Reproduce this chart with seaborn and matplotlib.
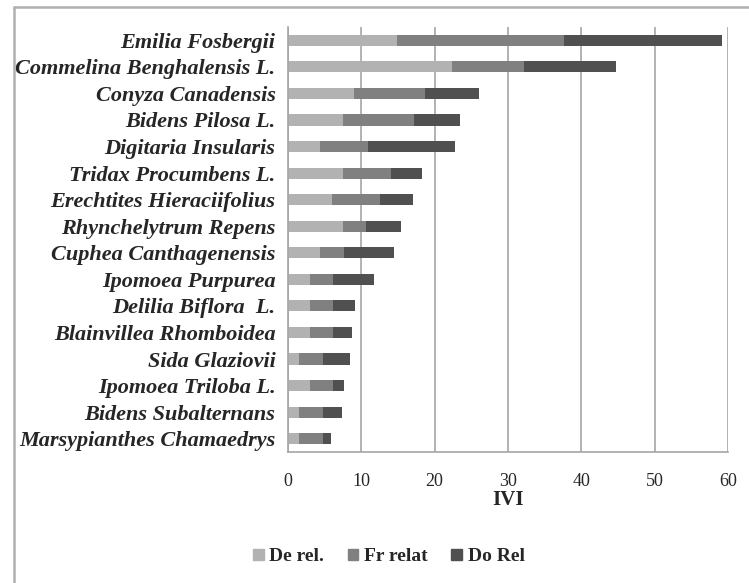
import numpy as np
import pandas as pd
import matplotlib
matplotlib.use("Agg")
import matplotlib.pyplot as plt
from matplotlib.patches import Patch
from matplotlib.lines import Line2D
import seaborn as sns

species = ["Emilia Fosbergii", "Commelina Benghalensis L.", "Conyza Canadensis",
           "Bidens Pilosa L.", "Digitaria Insularis", "Tridax Procumbens L.",
           "Erechtites Hieraciifolius", "Rhynchelytrum Repens", "Cuphea Canthagenensis",
           "Ipomoea Purpurea", "Delilia Biflora  L.", "Blainvillea Rhomboidea",
           "Sida Glaziovii", "Ipomoea Triloba L.", "Bidens Subalternans",
           "Marsypianthes Chamaedrys"]
de_rel = [14.9, 22.4, 9.0, 7.5, 4.4, 7.5, 6.05, 7.5, 4.4, 3.0, 3.0, 3.0, 1.55, 3.0, 1.55, 1.55]
fr_relat = [22.7, 9.8, 9.7, 9.7, 6.5, 6.5, 6.5, 3.2, 3.3, 3.2, 3.2, 3.2, 3.25, 3.2, 3.25, 3.25]
do_rel = [21.6, 12.5, 7.3, 6.3, 11.9, 4.3, 4.5, 4.7, 6.8, 5.5, 2.9, 2.5, 3.6, 1.4, 2.5, 1.05]

df = pd.DataFrame({"species": species, "De rel.": de_rel,
                   "Fr relat": fr_relat, "Do Rel": do_rel})
df["c1"] = df["De rel."]
df["c2"] = df["c1"] + df["Fr relat"]
df["c3"] = df["c2"] + df["Do Rel"]

colors = {"De rel.": "#b2b2b2", "Fr relat": "#808080", "Do Rel": "#505050"}

sns.set_style("white")
plt.rcParams["font.family"] = ["Liberation Serif", "DejaVu Serif"]

fig = plt.figure(figsize=(7.49, 5.83), dpi=100)
ax = fig.add_axes([0.3845, 0.2247, 0.5875, 0.729])

# stacked bars: draw cumulative totals back to front
for col, key in [("c3", "Do Rel"), ("c2", "Fr relat"), ("c1", "De rel.")]:
    sns.barplot(data=df, x=col, y="species", orient="h", color=colors[key],
                width=0.42, ax=ax, saturation=1, linewidth=0)

ax.set_xlim(0, 60)
ax.set_xticks(np.arange(0, 61, 10))
ax.xaxis.grid(True, color="#a6a6a6", linewidth=1.2)
ax.set_axisbelow(True)
for s in ["top", "right"]:
    ax.spines[s].set_visible(False)
for s in ["left", "bottom"]:
    ax.spines[s].set_color("#a6a6a6")
    ax.spines[s].set_linewidth(1.2)
ax.tick_params(axis="x", labelsize=13, length=0, pad=15)
ax.tick_params(axis="y", length=0, pad=9)
for lbl in ax.get_yticklabels():
    lbl.set_fontsize(16)
    lbl.set_fontweight("bold")
    lbl.set_fontstyle("italic")
ax.set_ylabel("")
ax.set_xlabel("IVI", fontsize=15, fontweight="bold", labelpad=0)

handles = [Patch(color=colors[k], label=k) for k in ["De rel.", "Fr relat", "Do Rel"]]
fig.legend(handles=handles, loc="center", bbox_to_anchor=(0.519, 0.045), ncol=3,
           frameon=False, handlelength=0.55, handleheight=0.55, handletextpad=0.3,
           columnspacing=1.2, prop={"weight": "bold", "size": 14})

# outer frame (left and top edges only, as in the reference)
fig.add_artist(Line2D([13.5 / 749, 13.5 / 749], [0, 1 - 6.5 / 583],
                      transform=fig.transFigure, color="#b0b0b0", linewidth=1.8))
fig.add_artist(Line2D([13.5 / 749, 1], [1 - 6.5 / 583, 1 - 6.5 / 583],
                      transform=fig.transFigure, color="#b0b0b0", linewidth=1.8))

fig.savefig("out.png", dpi=100)
